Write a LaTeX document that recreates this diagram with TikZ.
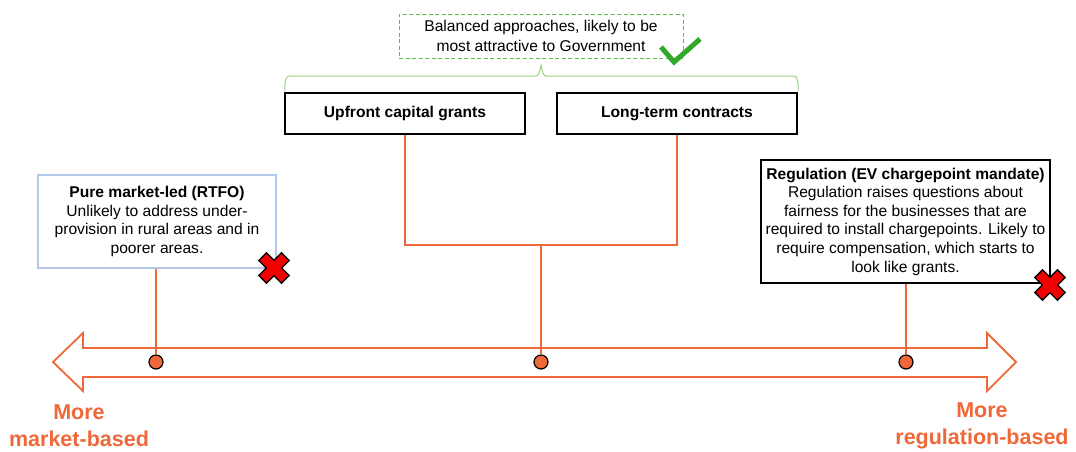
\documentclass[tikz,border=0pt]{standalone}
\usepackage{fontspec}
\setmainfont{Liberation Sans}
\usetikzlibrary{shadows}
\definecolor{orng}{RGB}{239,104,57}
\definecolor{grn}{RGB}{52,168,40}
\definecolor{dgrn}{RGB}{90,190,70}
\definecolor{lgrn}{RGB}{150,210,130}
\definecolor{lblue}{RGB}{180,199,231}
\definecolor{xred}{RGB}{240,0,0}
\begin{document}
\begin{tikzpicture}[x=1pt,y=-1pt,
  optbox/.style={draw=black,line width=1.7pt,minimum width=240pt,minimum height=41pt,inner sep=0pt,
    font=\fontsize{15.6}{18}\selectfont\bfseries},
  descbox/.style={line width=1.3pt,inner sep=0pt,align=center,font=\fontsize{15.6}{18.6}\selectfont},
  conn/.style={draw=orng,line width=2pt},
  dot/.style={circle,draw=black,fill=orng,line width=1.2pt,minimum size=14pt,inner sep=0pt},
  endlabel/.style={text=orng,align=center,font=\fontsize{21.5}{27}\selectfont\bfseries},
  redx/.pic={\draw[black,fill=xred,line width=1.3pt,rotate=45]
     (5.5,16)--(5.5,5.5)--(16,5.5)--(16,-5.5)--(5.5,-5.5)--(5.5,-16)--(-5.5,-16)--(-5.5,-5.5)--(-16,-5.5)--(-16,5.5)--(-5.5,5.5)--(-5.5,16)--cycle;}
]
\useasboundingbox (0,0) rectangle (1076,451);

% top dashed note
\node[draw=dgrn,dash pattern=on 4pt off 2.5pt,line width=1pt,minimum width=284pt,minimum height=44pt,inner sep=0pt,align=center,
  font=\fontsize{15.6}{19.5}\selectfont] (note) at (541,36)
  {Balanced approaches, likely to be\\most attractive to Government};
\draw[grn,line width=5pt] (661,47) -- (674,62) -- (700,39);

% brace
\draw[lgrn,line width=1pt] (285,90) to[out=-90,in=180] (289,76) -- (536,76)
  to[out=0,in=90] (541,66) to[out=90,in=180] (546,76) -- (794,76) to[out=0,in=-90] (798,90);

% option boxes
\node[optbox] (up) at (405,113.5) {Upfront capital grants};
\node[optbox] (lt) at (677,113.5) {Long-term contracts};

% description boxes
\node[descbox,draw=lblue,minimum width=238pt,minimum height=93pt,fill=white,
  drop shadow={shadow xshift=1pt,shadow yshift=-1pt,opacity=0.25}] (pm) at (157,221.5)
  {\textbf{Pure market-led (RTFO)}\\Unlikely to address under-\\provision in rural areas and in\\poorer areas.};
\node[descbox,draw=black,minimum width=289pt,minimum height=123pt] (rg) at (905.5,221.5)
  {\textbf{Regulation (EV chargepoint mandate)}\\Regulation raises questions about\\fairness for the businesses that are\\required to install chargepoints. Likely to\\require compensation, which starts to\\look like grants.};

% big double arrow
\coordinate (tl) at (53,362);
\coordinate (tr) at (1016,362);
\draw[orng,line width=1.8pt,fill=white] (tl) -- (83,333) -- (83,348) -- (987,348) -- (987,333) -- (tr)
  -- (987,391) -- (987,377) -- (83,377) -- (83,391) -- cycle;

% dots
\node[dot] (d1) at (156,362) {};
\node[dot] (d2) at (541,362) {};
\node[dot] (d3) at (906,362) {};

% connectors
\coordinate (j) at (541,245);
\draw[conn] (up.south) |- (j) -| (lt.south);
\draw[conn] (j) -- (d2.north);
\draw[conn] (pm.south -| d1) -- (d1.north);
\draw[conn] (rg.south -| d3) -- (d3.north);

% red crosses
\pic at (274,268) {redx};
\pic at (1050,285) {redx};

% end labels
\node[endlabel] (ml) at (79,426) {More\\market-based};
\node[endlabel] (rl) at (982,426) {More\\regulation-based};
\end{tikzpicture}
\end{document}
